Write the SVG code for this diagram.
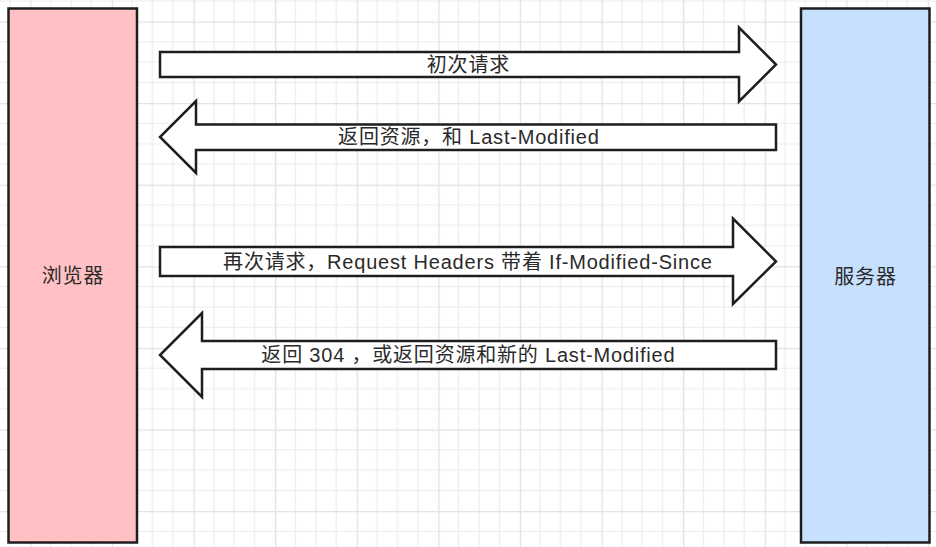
<svg xmlns="http://www.w3.org/2000/svg" width="936" height="547" viewBox="0 0 936 547">
  <defs>
    <pattern id="grid" patternUnits="userSpaceOnUse" x="30.2" y="21.4" width="81.6" height="81.6">
      <path d="M20.4 0V81.6M40.8 0V81.6M61.2 0V81.6M0 20.4H81.6M0 40.8H81.6M0 61.2H81.6" stroke="#ececec" stroke-width="1.2" fill="none"/>
      <path d="M0.6 0V81.6M0 0.6H81.6" stroke="#e2e2e2" stroke-width="1.4" fill="none"/>
    </pattern>
  </defs>
  <style>
    .box { stroke: #1e1e1e; stroke-width: 2.5; }
    .arrow { fill: #ffffff; stroke: #1e1e1e; stroke-width: 2.5; stroke-linejoin: miter; }
    .label { font-family: "Liberation Sans", "Noto Sans CJK SC", sans-serif; font-size: 20px; fill: #2a2a2a; text-anchor: middle; }
    .wide { letter-spacing: 0.8px; }
  </style>
  <rect x="0" y="0" width="936" height="547" fill="#ffffff"/>
  <rect x="0" y="0" width="936" height="547" fill="url(#grid)"/>

  <g id="browser">
    <rect class="box" x="8.5" y="8.5" width="128.5" height="534" fill="#ffc1c4"/>
    <text class="label wide" x="73" y="283">浏览器</text>
  </g>
  <g id="server">
    <rect class="box" x="801" y="8.5" width="128.5" height="534" fill="#c6e0fe"/>
    <text class="label wide" x="865.5" y="284">服务器</text>
  </g>

  <g id="connectors">
    <g id="arrow1">
      <polygon class="arrow" points="160,52 739,52 739,27.5 776,64.5 739,101.5 739,77 160,77"/>
      <text class="label wide" x="468.4" y="72">初次请求</text>
    </g>
    <g id="arrow2">
      <polygon class="arrow" points="776,124.5 196,124.5 196,101 160,137 196,173 196,150 776,150"/>
      <text class="label wide" x="468.9" y="144">返回资源，和 Last-Modified</text>
    </g>
    <g id="arrow3">
      <polygon class="arrow" points="160,247 733,247 733,218.5 776,261.5 733,304 733,276 160,276"/>
      <text class="label wide" x="467.9" y="268.5">再次请求，Request Headers 带着 If-Modified-Since</text>
    </g>
    <g id="arrow4">
      <polygon class="arrow" points="776,341 202,341 202,313 160,355 202,397 202,369 776,369"/>
      <text class="label wide" x="468.4" y="361.5">返回 304 ，或返回资源和新的 Last-Modified</text>
    </g>
  </g>
</svg>
